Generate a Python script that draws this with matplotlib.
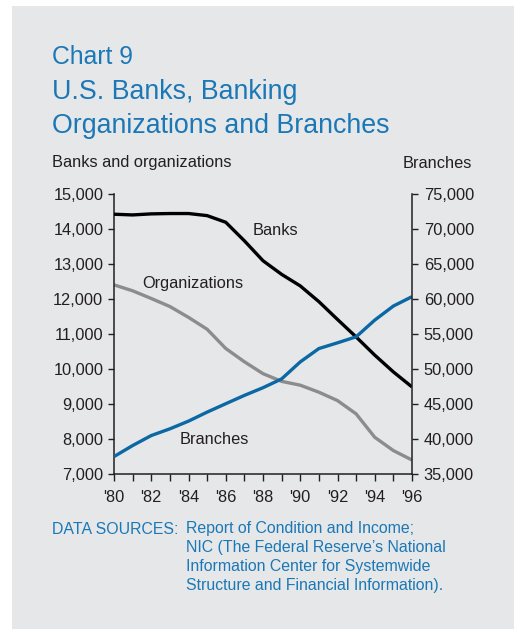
import matplotlib
matplotlib.use("Agg")
import matplotlib.pyplot as plt
from matplotlib.patches import Rectangle

# Counts of U.S. banks, banking organizations and branches, 1980-1996
years = list(range(1980, 1997))
banks = [14430, 14410, 14440, 14450, 14450, 14390, 14200, 13670, 13100,
         12710, 12380, 11930, 11420, 10920, 10400, 9920, 9490]
organizations = [12410, 12240, 12020, 11790, 11480, 11140, 10590, 10210, 9870,
                 9650, 9540, 9340, 9100, 8720, 8050, 7670, 7400]
branches = [37490, 39070, 40500, 41460, 42560, 43850, 45050, 46240, 47340,
            48600, 51030, 52940, 53760, 54620, 57010, 59020, 60360]

left_ticks = list(range(7000, 15001, 1000))
right_ticks = list(range(35000, 75001, 5000))
year_labels = ["'80", "'82", "'84", "'86", "'88", "'90", "'92", "'94", "'96"]

source_lines = [
    "Report of Condition and Income;",
    "NIC (The Federal Reserve\u2019s National",
    "Information Center for Systemwide",
    "Structure and Financial Information).",
]

W, H = 514, 629
BG = "#e6e7e9"
BLUE_TXT = "#1b78b6"
BLUE_LINE = "#0b68a5"
GRAY_LINE = "#8c8c8c"
INK = "#231f20"
FS = 11.8

plt.rcParams["font.family"] = ["Liberation Sans", "DejaVu Sans"]

fig = plt.figure(figsize=(W / 100, H / 100), dpi=100)
fig.patch.set_facecolor("white")


def fx(px):
    return px / W


def fy(py):
    return 1 - py / H


# grey panel behind everything
fig.patches.append(Rectangle((fx(12), 0), 1 - fx(12), fy(6), transform=fig.transFigure,
                             facecolor=BG, edgecolor="none", zorder=-10))

ax = fig.add_axes([fx(114), fy(474), fx(412) - fx(114), fy(194.3) - fy(474)])
ax.set_facecolor("none")
ax2 = ax.twinx()
ax2.set_facecolor("none")

ax.plot(years, banks, color="black", lw=2.4, solid_capstyle="butt", zorder=3)
ax.plot(years, organizations, color=GRAY_LINE, lw=2.4, solid_capstyle="butt", zorder=2)
ax2.plot(years, branches, color=BLUE_LINE, lw=2.4, solid_capstyle="butt", zorder=2)

ax.set_xlim(1980, 1996)
ax.set_ylim(7000, 15000)
ax2.set_ylim(35000, 75000)

ax.set_yticks(left_ticks)
ax.set_yticklabels([f"{v:,}" for v in left_ticks])
ax2.set_yticks(right_ticks)
ax2.set_yticklabels([f"{v:,}" for v in right_ticks])
ax.set_xticks(years)
ax.set_xticklabels([year_labels[(y - 1980) // 2] if y % 2 == 0 else "" for y in years])

for a in (ax, ax2):
    a.spines["top"].set_visible(False)
    for s in a.spines.values():
        s.set_color(INK)
        s.set_linewidth(1.1)
    a.tick_params(direction="out", length=4.5, width=1.0, color=INK,
                  labelsize=FS, labelcolor=INK)
ax.spines["right"].set_visible(False)
ax2.spines["left"].set_visible(False)
ax2.spines["bottom"].set_visible(False)
ax.tick_params(axis="y", pad=3.2)
ax.tick_params(axis="x", pad=6.5, length=5)
ax2.tick_params(axis="y", pad=4)

# series labels
ax.text(1987.45, 13960, "Banks", fontsize=FS, color=INK, va="center", ha="left")
ax.text(1981.5, 12440, "Organizations", fontsize=FS, color=INK, va="center", ha="left")
ax.text(1983.5, 7980, "Branches", fontsize=FS, color=INK, va="center", ha="left")

# titles
fig.text(fx(52), fy(64), "Chart 9", fontsize=17.8, color=BLUE_TXT, va="baseline", ha="left")
fig.text(fx(52), fy(99), "U.S. Banks, Banking", fontsize=19.3, color=BLUE_TXT,
         va="baseline", ha="left")
fig.text(fx(52), fy(133), "Organizations and Branches", fontsize=19.3, color=BLUE_TXT,
         va="baseline", ha="left")

fig.text(fx(52), fy(163), "Banks and organizations", fontsize=FS, color=INK,
         va="center", ha="left")
fig.text(fx(472), fy(163), "Branches", fontsize=FS, color=INK, va="center", ha="right")

# data sources note
fig.text(fx(52), fy(529), "DATA SOURCES:", fontsize=11.4, color=BLUE_TXT, va="center", ha="left")
for i, line in enumerate(source_lines):
    fig.text(fx(186), fy(529 + 18.8 * i), line, fontsize=11.4, color=BLUE_TXT,
             va="center", ha="left")

fig.savefig("out.png", dpi=100)
